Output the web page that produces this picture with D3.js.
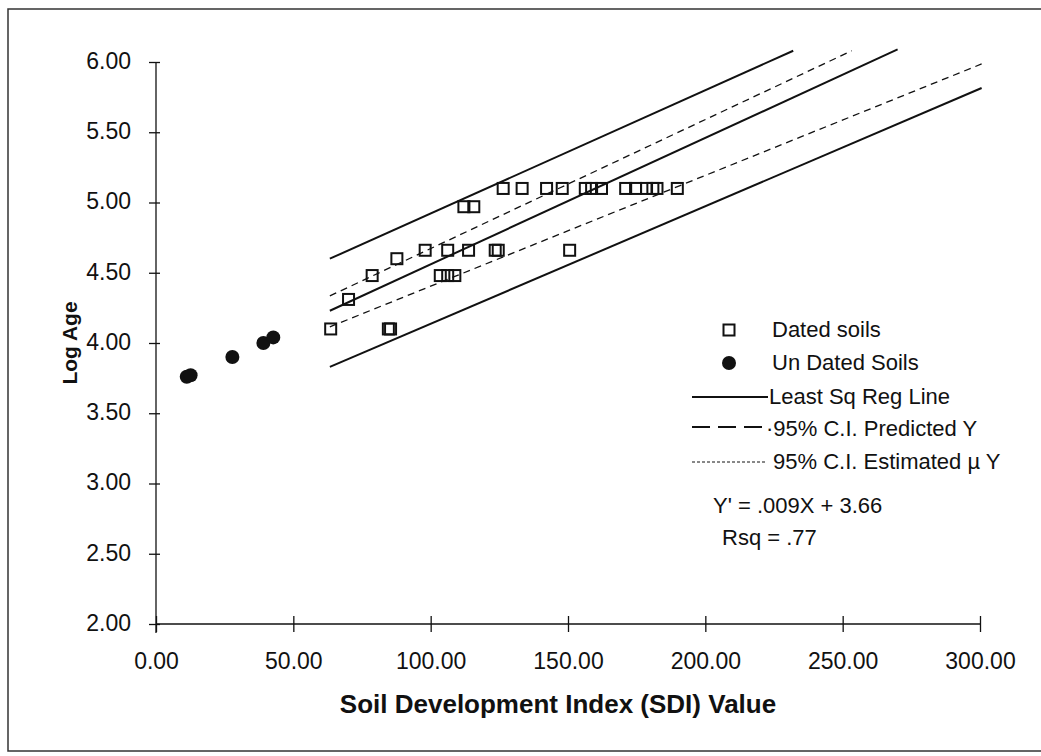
<!DOCTYPE html>
<html>
<head>
<meta charset="utf-8">
<script src="https://cdn.jsdelivr.net/npm/d3@7"></script>
<style>
  html, body { margin: 0; padding: 0; background: #fff; }
  svg { display: block; font-family: "Liberation Sans", Arial, sans-serif; }
</style>
</head>
<body>
<svg id="chart" width="1041" height="756"></svg>
<script>
// Dated soils: SDI value and log age
const datedSDI = [63.6, 84.6, 85.4, 70.1, 78.7, 103.5, 106.2, 108.8, 87.7,
  98.0, 106.2, 113.8, 123.5, 124.6, 150.6, 112.1, 115.7,
  126.4, 133.3, 142.2, 147.9, 156.3, 158.6, 162.2, 171.0, 174.6, 178.6, 180.9, 182.4, 189.8];
const datedLogAge = [4.10, 4.10, 4.10, 4.31, 4.48, 4.48, 4.48, 4.48, 4.60,
  4.66, 4.66, 4.66, 4.66, 4.66, 4.66, 4.97, 4.97,
  5.10, 5.10, 5.10, 5.10, 5.10, 5.10, 5.10, 5.10, 5.10, 5.10, 5.10, 5.10, 5.10];

// Undated soils
const undatedSDI = [11.2, 12.6, 27.8, 39.1, 42.7];
const undatedLogAge = [3.76, 3.77, 3.90, 4.00, 4.04];

// Least squares regression: Y' = .009X + 3.66
const regSlope = 0.009;
const regIntercept = 3.66;
const regRangeSDI = [63.3, 270];

// Interval bands, endpoints [SDI, log age]
const upperPredicted = [[63.3, 4.60], [232.0, 6.08]];
const lowerPredicted = [[63.3, 3.83], [300.6, 5.815]];
const upperEstimated = [[63.3, 4.335], [253.3, 6.08]];
const lowerEstimated = [[63.3, 4.115], [300.6, 5.986]];

const xTicks = [0, 50, 100, 150, 200, 250, 300];
const yTicks = [2.0, 2.5, 3.0, 3.5, 4.0, 4.5, 5.0, 5.5, 6.0];

const svg = d3.select("#chart");
const ink = "#111";

// page frame
svg.append("rect").attr("x", 8).attr("y", 9).attr("width", 1050).attr("height", 742)
  .attr("fill", "none").attr("stroke", "#333").attr("stroke-width", 1.5);

const x = d3.scaleLinear().domain([0, 300]).range([156, 980]);
const y = d3.scaleLinear().domain([2, 6]).range([624, 62]);

// y axis
const yAxis = svg.append("g").attr("transform", `translate(${x(0)},0)`)
  .call(d3.axisLeft(y).tickValues(yTicks).tickFormat(d3.format(".2f")).tickSize(7).tickPadding(18));
yAxis.select(".domain").attr("d", `M0,${y(6)}V${y(2) + 9}`).attr("stroke", ink).attr("stroke-width", 1.3);
yAxis.selectAll(".tick line").attr("x1", 4).attr("stroke", ink).attr("stroke-width", 1.3);
yAxis.selectAll(".tick text").attr("font-size", 23).attr("fill", ink).attr("dy", "0.28em")
  .attr("font-family", "Liberation Sans, Arial, sans-serif");

// x axis
const xAxis = svg.append("g").attr("transform", `translate(0,${y(2)})`)
  .call(d3.axisBottom(x).tickValues(xTicks).tickFormat(d3.format(".2f")).tickSize(8).tickPadding(21));
xAxis.select(".domain").attr("d", `M${x(0)},0H${x(300)}`).attr("stroke", ink).attr("stroke-width", 1.3);
xAxis.selectAll(".tick line").attr("y1", -8).attr("stroke", ink).attr("stroke-width", 1.3);
xAxis.selectAll(".tick text").attr("font-size", 23).attr("fill", ink)
  .attr("font-family", "Liberation Sans, Arial, sans-serif");

// axis titles
svg.append("text").attr("x", 558).attr("y", 713).attr("text-anchor", "middle")
  .attr("font-size", 26).attr("font-weight", "bold").attr("fill", ink)
  .text("Soil Development Index (SDI) Value");
svg.append("text").attr("transform", "translate(77,343) rotate(-90)").attr("text-anchor", "middle")
  .attr("font-size", 21).attr("font-weight", "bold").attr("fill", ink)
  .text("Log Age");

const line = d3.line().x(d => x(d[0])).y(d => y(d[1]));

// regression line
const regPts = regRangeSDI.map(s => [s, regSlope * s + regIntercept]);
svg.append("path").attr("d", line(regPts)).attr("fill", "none").attr("stroke", ink).attr("stroke-width", 2);

// prediction interval bounds
[upperPredicted, lowerPredicted].forEach(p => {
  svg.append("path").attr("d", line(p)).attr("fill", "none").attr("stroke", ink).attr("stroke-width", 2);
});
// confidence interval for the mean
[upperEstimated, lowerEstimated].forEach(p => {
  svg.append("path").attr("d", line(p)).attr("fill", "none").attr("stroke", ink)
    .attr("stroke-width", 1.3).attr("stroke-dasharray", "7,5");
});

// dated soils
const sq = 11;
svg.append("g").selectAll("rect").data(datedSDI.map((s, i) => [s, datedLogAge[i]])).join("rect")
  .attr("x", d => x(d[0]) - sq / 2).attr("y", d => y(d[1]) - sq / 2)
  .attr("width", sq).attr("height", sq)
  .attr("fill", "none").attr("stroke", ink).attr("stroke-width", 2);

// undated soils
svg.append("g").selectAll("circle").data(undatedSDI.map((s, i) => [s, undatedLogAge[i]])).join("circle")
  .attr("cx", d => x(d[0])).attr("cy", d => y(d[1])).attr("r", 7).attr("fill", ink);

// legend
const lg = svg.append("g").attr("fill", ink).attr("font-size", 22);
lg.append("rect").attr("x", 729 - 5.5).attr("y", 330 - 5.5).attr("width", 11).attr("height", 11)
  .attr("fill", "none").attr("stroke", ink).attr("stroke-width", 2);
lg.append("text").attr("x", 772).attr("y", 337).text("Dated soils");
lg.append("circle").attr("cx", 729).attr("cy", 363).attr("r", 7);
lg.append("text").attr("x", 772).attr("y", 370).text("Un Dated Soils");
lg.append("line").attr("x1", 692).attr("x2", 768).attr("y1", 397).attr("y2", 397)
  .attr("stroke", ink).attr("stroke-width", 2);
lg.append("text").attr("x", 769).attr("y", 404).text("Least Sq Reg Line");
lg.append("line").attr("x1", 692).attr("x2", 764).attr("y1", 427).attr("y2", 427)
  .attr("stroke", ink).attr("stroke-width", 2).attr("stroke-dasharray", "18,8");
lg.append("text").attr("x", 766).attr("y", 436).text("·95% C.I. Predicted Y");
lg.append("line").attr("x1", 692).attr("x2", 765).attr("y1", 462).attr("y2", 462)
  .attr("stroke", ink).attr("stroke-width", 1).attr("stroke-dasharray", "3,2");
lg.append("text").attr("x", 773).attr("y", 469).text("95% C.I. Estimated µ Y");
lg.append("text").attr("x", 713).attr("y", 513).text("Y' = .009X + 3.66");
lg.append("text").attr("x", 722).attr("y", 545).text("Rsq = .77");
</script>
</body>
</html>
